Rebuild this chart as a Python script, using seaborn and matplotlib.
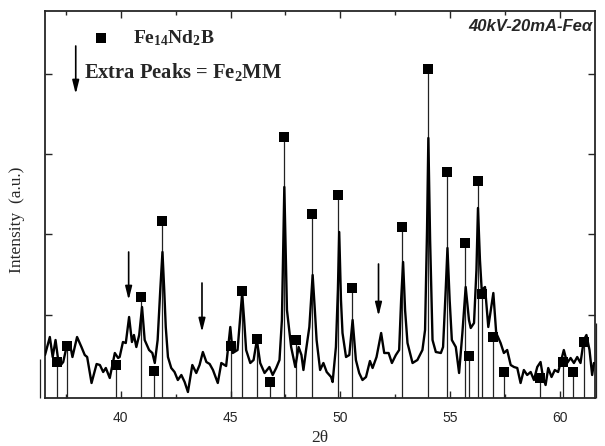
import numpy as np
import pandas as pd
import matplotlib
matplotlib.use("Agg")
import matplotlib.pyplot as plt
import seaborn as sns

# =============================================================================
# DATOS (leídos del difractograma)
# =============================================================================
two_theta = [36.55, 36.77, 36.90, 37.03, 37.15, 37.27, 37.38, 37.53, 37.68, 37.80,
             38.01, 38.21, 38.36, 38.47, 38.67, 38.90, 39.05, 39.20, 39.32, 39.50,
             39.73, 39.88, 39.95, 40.10, 40.23, 40.38, 40.51, 40.60, 40.71, 40.84,
             40.97, 41.09, 41.29, 41.44, 41.55, 41.68, 41.80, 41.90, 41.98, 42.05,
             42.15, 42.30, 42.45, 42.60, 42.76, 42.91, 43.06, 43.26, 43.44, 43.59,
             43.74, 43.90, 44.05, 44.20, 44.42, 44.58, 44.80, 44.90, 44.99, 45.10,
             45.32, 45.43, 45.53, 45.62, 45.71, 45.90, 46.05, 46.20, 46.35, 46.55,
             46.77, 46.92, 47.08, 47.23, 47.34, 47.45, 47.57, 47.76, 47.95, 48.10,
             48.23, 48.32, 48.44, 48.59, 48.74, 48.84, 48.92, 49.08, 49.23, 49.38,
             49.58, 49.65, 49.80, 49.89, 49.95, 50.03, 50.10, 50.26, 50.41, 50.56,
             50.71, 50.86, 51.01, 51.17, 51.35, 51.47, 51.65, 51.86, 52.00, 52.20,
             52.35, 52.53, 52.68, 52.77, 52.86, 52.95, 53.06, 53.29, 53.51, 53.74,
             53.86, 53.95, 54.01, 54.09, 54.20, 54.35, 54.58, 54.68, 54.80, 54.88,
             54.98, 55.08, 55.26, 55.41, 55.56, 55.71, 55.86, 55.94, 56.09, 56.20,
             56.27, 56.36, 56.44, 56.59, 56.74, 56.97, 57.10, 57.30, 57.45, 57.60,
             57.76, 57.91, 58.06, 58.21, 58.36, 58.51, 58.67, 58.82, 58.97, 59.12,
             59.23, 59.35, 59.47, 59.62, 59.77, 59.92, 60.03, 60.18, 60.33, 60.49,
             60.64, 60.79, 60.94, 61.09, 61.21, 61.35, 61.47, 61.55]
intensidad = [43, 61, 41, 58, 38, 33, 36, 51, 55, 41,
              61, 51, 43, 41, 15, 34, 33, 26, 30, 20,
              45, 40, 41, 56, 55, 81, 56, 63, 51, 63,
              91, 58, 48, 45, 35, 58, 108, 146, 108, 71,
              41, 30, 26, 18, 23, 16, 6, 33, 25, 33,
              46, 36, 34, 28, 15, 35, 32, 53, 71, 45,
              48, 78, 105, 78, 48, 35, 38, 58, 35, 25,
              31, 23, 30, 38, 78, 211, 88, 51, 31, 51,
              43, 28, 48, 71, 123, 88, 58, 28, 35, 26,
              21, 16, 51, 108, 166, 98, 65, 41, 43, 78,
              38, 25, 18, 21, 37, 30, 41, 65, 45, 45,
              35, 43, 48, 98, 136, 88, 55, 35, 38, 48,
              68, 168, 260, 158, 58, 46, 45, 51, 108, 150,
              98, 58, 51, 25, 65, 111, 78, 70, 75, 128,
              190, 138, 108, 111, 71, 105, 65, 55, 45, 48,
              33, 31, 30, 15, 28, 23, 26, 18, 31, 36,
              21, 13, 30, 21, 28, 26, 35, 48, 35, 40,
              35, 41, 35, 58, 63, 48, 23, 35]

# picos de referencia Fe14Nd2B
picos_2theta = [37.10, 37.53, 39.77, 40.94, 41.50, 41.88, 45.03, 45.53, 46.20, 46.80,
                47.42, 48.00, 48.70, 49.90, 50.53, 52.83, 54.00, 54.88, 55.67, 55.86,
                56.25, 56.44, 56.94, 57.45, 59.08, 60.15, 60.60, 61.12]
picos_int = [36, 52, 33, 101, 27, 177, 52, 107, 59, 16,
             261, 58, 184, 203, 110, 171, 329, 226, 155, 42,
             217, 104, 61, 26, 20, 36, 26, 56]

# lineas sueltas fuera del marco (tal como en la figura original)
bordes_2theta = [36.32, 61.65]
bordes_int = [39, 75]

# picos extra (Fe2MM) marcados con flecha
flechas_2theta = [40.36, 43.70, 51.74]
flechas_ini = [146, 115, 134]
flechas_fin = [98, 66, 82]

df = pd.DataFrame({"2theta": two_theta, "I": intensidad})
df_picos = pd.DataFrame({"2theta": picos_2theta, "I": picos_int})

# =============================================================================
# FIGURA
# =============================================================================
sns.set_style("ticks")
plt.rcParams['font.family'] = ['Liberation Serif', 'DejaVu Serif']
plt.rcParams['mathtext.fontset'] = 'custom'
plt.rcParams['mathtext.rm'] = 'Liberation Serif:bold'
plt.rcParams['mathtext.bf'] = 'Liberation Serif:bold'
plt.rcParams['mathtext.it'] = 'Liberation Serif:bold:italic'

fig = plt.figure(figsize=(6.05, 4.46), dpi=100)
ax = fig.add_axes([45 / 605, 1 - 398 / 446, 550 / 605, 387 / 446])

ax.vlines(df_picos["2theta"], 0, df_picos["I"], colors="#222222", lw=0.9, zorder=2)
ax.vlines(bordes_2theta, 0, bordes_int, colors="#222222", lw=0.9, clip_on=False)
sns.lineplot(data=df, x="2theta", y="I", sort=False, color="black", lw=1.7,
             ax=ax, zorder=3, solid_joinstyle="round")
sns.scatterplot(data=df_picos, x="2theta", y="I", marker="s", s=55, color="black",
                edgecolor="black", linewidth=0, ax=ax, zorder=4, clip_on=False)

for xa, y0, y1 in zip(flechas_2theta, flechas_ini, flechas_fin):
    ax.annotate("", xy=(xa, y1), xytext=(xa, y0),
                arrowprops=dict(arrowstyle="-|>,head_length=0.8,head_width=0.2",
                                color="black", lw=1.2, shrinkA=0, shrinkB=0))

# leyenda manual
ax.scatter([39.09], [360], marker="s", s=55, color="black", linewidth=0)
ax.text(40.55, 360, "Fe$_{14}$Nd$_{2}$B", fontsize=14, fontweight="bold",
        va="center", ha="left")
ax.annotate("", xy=(37.95, 304), xytext=(37.95, 352),
            arrowprops=dict(arrowstyle="-|>,head_length=0.8,head_width=0.2",
                            color="black", lw=1.2, shrinkA=0, shrinkB=0))
ax.text(38.32, 326, "Extra Peaks = Fe$_{2}$MM", fontsize=14.8, fontweight="bold",
        va="center", ha="left")

ax.text(0.995, 0.959, "40kV-20mA-Feα", transform=ax.transAxes, ha="right",
        va="center", fontsize=12, fontweight="bold", fontstyle="italic",
        family=["Liberation Sans", "DejaVu Sans"])

ax.set_xlim(36.55, 61.6)
ax.set_ylim(0, 387)
ax.set_xticks([40, 45, 50, 55, 60])
ax.set_xticks(np.arange(37.5, 61.6, 2.5), minor=True)
ax.set_yticks([83, 164, 244, 324])
ax.set_yticklabels([])
for lab in ax.get_xticklabels():
    lab.set_family(["Liberation Sans", "DejaVu Sans"])
    lab.set_fontsize(10)

ax.tick_params(direction="in", top=True, right=True, which="both", width=1.0)
ax.tick_params(which="major", length=5)
ax.tick_params(which="minor", length=3)
ax.tick_params(axis="x", pad=9)

for s in ax.spines.values():
    s.set_linewidth(1.3)

ax.set_xlabel("2θ", fontsize=12.5, labelpad=4)
ax.set_ylabel("Intensity  (a.u.)", fontsize=12.5)
ax.yaxis.set_label_coords(-0.036, 0.46)

fig.savefig("out.png", dpi=100)
plt.close(fig)
